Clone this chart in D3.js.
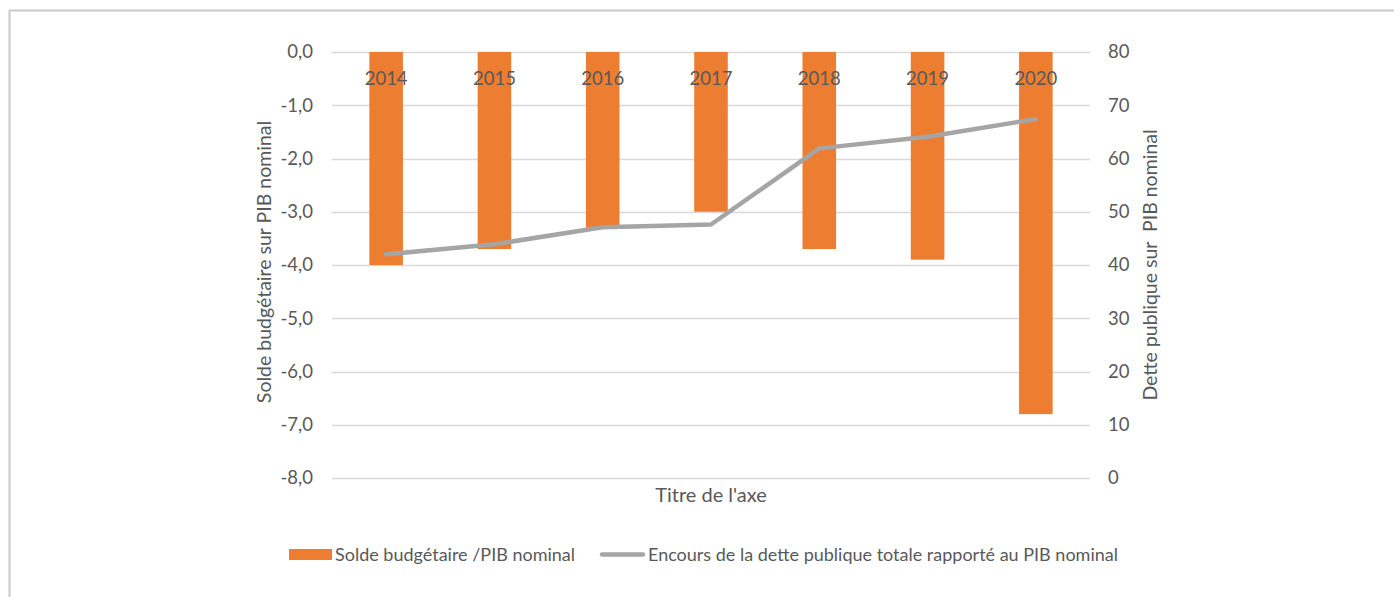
<!DOCTYPE html>
<html>
<head>
<meta charset="utf-8">
<script src="https://cdn.jsdelivr.net/npm/d3@7"></script>
<style>
  html, body { margin: 0; padding: 0; background: #fff; }
  svg { display: block; font-family: Lato, "Open Sans", sans-serif; }
</style>
</head>
<body>
<svg id="chart" width="1394" height="597"></svg>
<script>
// Years shown on the category axis
const years = ["2014", "2015", "2016", "2017", "2018", "2019", "2020"];
// Budget balance as % of nominal GDP (left axis, bars)
const soldeBudgetaire = [-4.0, -3.7, -3.3, -3.0, -3.7, -3.9, -6.8];
// Total public debt outstanding as % of nominal GDP (right axis, line)
const detteRapportee = [42.0, 43.9, 47.1, 47.6, 61.9, 64.1, 67.4];
// Axis tick values
const leftTicks = [0, -1, -2, -3, -4, -5, -6, -7, -8];
const rightTicks = [0, 10, 20, 30, 40, 50, 60, 70, 80];

const svg = d3.select("#chart");
const textColor = "#595959";
const gridColor = "#d9d9d9";
const barColor = "#ED7D31";
const lineColor = "#A5A5A5";
const tickSize = "18.5px";
const titleSize = "19.5px";
const legendSize = "18px";

// Outer chart frame
svg.append("rect")
  .attr("x", 9.5).attr("y", 10.5)
  .attr("width", 1400).attr("height", 600)
  .attr("fill", "none").attr("stroke", "#c9c9c9").attr("stroke-width", 2);

const plot = { left: 332, right: 1090, top: 52, bottom: 478 };

const x = d3.scaleBand().domain(years).range([plot.left, plot.right]).paddingInner(0.69).paddingOuter(0.345);
const yL = d3.scaleLinear().domain([-8, 0]).range([plot.bottom, plot.top]);
const yR = d3.scaleLinear().domain([0, 80]).range([plot.bottom, plot.top]);

// Horizontal gridlines
svg.append("g").selectAll("line").data(leftTicks).join("line")
  .attr("x1", plot.left).attr("x2", plot.right)
  .attr("y1", d => Math.round(yL(d)) + 0.5).attr("y2", d => Math.round(yL(d)) + 0.5)
  .attr("stroke", gridColor).attr("stroke-width", 1.3);

// Left axis labels
const fmt = d => d.toFixed(1).replace(".", ",");
const leftAxis = d3.axisLeft(yL).tickValues(leftTicks).tickFormat(fmt).tickSize(0).tickPadding(19);
const gL = svg.append("g").attr("transform", `translate(${plot.left},0)`).call(leftAxis);
gL.select(".domain").remove();
gL.selectAll("text").attr("fill", textColor).style("font-size", tickSize).style("font-family", "Lato, sans-serif");

// Right axis labels
const rightAxis = d3.axisRight(yR).tickValues(rightTicks).tickFormat(d3.format("d")).tickSize(0).tickPadding(18);
const gR = svg.append("g").attr("transform", `translate(${plot.right},0)`).call(rightAxis);
gR.select(".domain").remove();
gR.selectAll("text").attr("fill", textColor).style("font-size", tickSize).style("font-family", "Lato, sans-serif");

// Bars (hang down from zero)
svg.append("g").selectAll("rect").data(years).join("rect")
  .attr("x", d => x(d))
  .attr("width", x.bandwidth())
  .attr("y", yL(0))
  .attr("height", (d, i) => yL(soldeBudgetaire[i]) - yL(0))
  .attr("fill", barColor);

// Category labels drawn just below the zero line
svg.append("g").selectAll("text").data(years).join("text")
  .attr("x", d => x(d) + x.bandwidth() / 2)
  .attr("y", yL(0) + 33)
  .attr("text-anchor", "middle")
  .attr("fill", textColor)
  .style("font-size", tickSize)
  .text(d => d);

// Debt ratio line
const line = d3.line()
  .x((d, i) => x(years[i]) + x.bandwidth() / 2)
  .y(d => yR(d));
svg.append("path").datum(detteRapportee)
  .attr("d", line)
  .attr("fill", "none")
  .attr("stroke", lineColor)
  .attr("stroke-width", 4.5)
  .attr("stroke-linecap", "round")
  .attr("stroke-linejoin", "round");

// Axis titles
svg.append("text")
  .attr("x", (plot.left + plot.right) / 2).attr("y", 502)
  .attr("text-anchor", "middle").attr("fill", textColor)
  .style("font-size", "20px")
  .text("Titre de l'axe");

svg.append("text")
  .attr("transform", `translate(271,262) rotate(-90)`)
  .attr("text-anchor", "middle").attr("fill", textColor)
  .style("font-size", titleSize)
  .text("Solde budgétaire sur PIB nominal");

svg.append("text")
  .attr("transform", `translate(1157,265) rotate(-90)`)
  .attr("text-anchor", "middle").attr("fill", textColor)
  .style("font-size", titleSize)
  .text("Dette publique sur\u00A0 PIB nominal");

// Legend
const legend = svg.append("g");
legend.append("rect")
  .attr("x", 289).attr("y", 549).attr("width", 43).attr("height", 11)
  .attr("fill", barColor);
legend.append("text")
  .attr("x", 335).attr("y", 561)
  .attr("fill", textColor).style("font-size", legendSize)
  .text("Solde budgétaire /PIB nominal");
legend.append("line")
  .attr("x1", 602).attr("x2", 643).attr("y1", 554.5).attr("y2", 554.5)
  .attr("stroke", lineColor).attr("stroke-width", 4.5).attr("stroke-linecap", "round");
legend.append("text")
  .attr("x", 648).attr("y", 561)
  .attr("fill", textColor).style("font-size", legendSize)
  .text("Encours de la dette publique totale rapporté au PIB nominal");
</script>
</body>
</html>
